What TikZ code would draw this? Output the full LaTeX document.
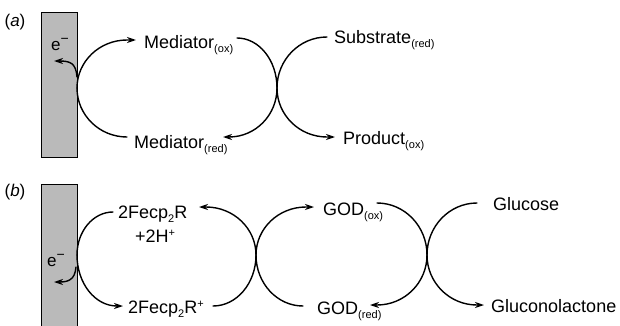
\documentclass[tikz,border=0pt]{standalone}
\usepackage{fontspec}
\setmainfont{Liberation Sans}
\usetikzlibrary{arrows.meta}
\newcommand\lowsub[1]{\raisebox{-4.5pt}{\fontsize{11}{12}\selectfont #1}}
\newcommand\highsup[1]{\raisebox{6pt}{\fontsize{11}{12}\selectfont #1}}
\newcommand\electron{e\raisebox{7pt}{\fontsize{14}{14}\selectfont −}}
\begin{document}
\begin{tikzpicture}[x=1pt,y=1pt,
  lbl/.style={font=\fontsize{18}{21}\selectfont, inner sep=0pt, anchor=base west},
  panel/.style={font=\fontsize{17}{20}\selectfont, inner sep=0pt},
  esym/.style={font=\fontsize{17}{20}\selectfont, inner sep=0pt},
  flow/.style={line width=1.4pt, line cap=round},
  tip/.style={-{Stealth[length=9pt,width=6pt]}},
  electrode/.style={draw, line width=1.3pt, fill=black!27, inner sep=0pt, anchor=south west}]
\useasboundingbox (0,0) rectangle (620,325);

% ---------- panel (a): mediator cycle ----------
\node[panel] (la) at (15,303) {(\textit{a})};
\node[electrode, minimum width=36pt, minimum height=145pt] (ea) at (41,167) {};
\node[esym] (ela) at (60,280) {\electron};

\node[lbl] (medox)  at (144,277) {Mediator\lowsub{(ox)}};
\node[lbl] (medred) at (134,177) {Mediator\lowsub{(red)}};
\node[lbl] (sub)    at (334,282) {Substrate\lowsub{(red)}};
\node[lbl] (prod)   at (343,181) {Product\lowsub{(ox)}};

\coordinate (ca0) at (77,237);   % contact with the electrode
\coordinate (ca1) at (277,237);  % crossing of the two cycles

\draw[flow,tip] (ca0) arc[start angle=180,end angle=90,x radius=50,y radius=48] -- ++(9,0);
\draw[flow] (ca0) arc[start angle=180,end angle=270,x radius=50,y radius=49];
\draw[flow] (ca1) arc[start angle=0,end angle=90,x radius=40,y radius=50];
\draw[flow,tip] (ca1) arc[start angle=0,end angle=-90,x radius=48,y radius=49] -- ++(-6,0);
\draw[flow] (ca1) arc[start angle=180,end angle=90,x radius=50,y radius=51];
\draw[flow,tip] (ca1) arc[start angle=180,end angle=270,x radius=50,y radius=49] -- ++(8,0);

\coordinate (ta0) at (77,248);
\coordinate (ta1) at (54,264);
\draw[flow,tip] (ta0) .. controls (76,262) and (70,264) .. (ta1);

% ---------- panel (b): ferrocene / glucose oxidase ----------
\node[panel] (lb) at (15,133) {(\textit{b})};
\node[electrode, minimum width=36pt, minimum height=150pt] (eb) at (41,-10) {};
\node[esym] (elb) at (56,64) {\electron};

\node[lbl] (fe1)    at (118,107) {2Fecp\lowsub{2}R};
\node[lbl] (fe2)    at (135,83)  {+2H\highsup{+}};
\node[lbl] (fer)    at (128,12)  {2Fecp\lowsub{2}R\highsup{+}};
\node[lbl] (godox)  at (323,110) {GOD\lowsub{(ox)}};
\node[lbl] (godred) at (317,11)  {GOD\lowsub{(red)}};
\node[lbl] (glu)    at (493,115) {Glucose};
\node[lbl] (gluc)   at (491,13)  {Gluconolactone};

\coordinate (cb0) at (77,70);
\coordinate (cb1) at (256,70);
\coordinate (cb2) at (427,70);

\draw[flow] (cb0) arc[start angle=180,end angle=90,x radius=36,y radius=43];
\draw[flow,tip] (cb0) arc[start angle=180,end angle=270,x radius=40,y radius=51] -- ++(6,0);
\draw[flow,tip] (cb1) arc[start angle=0,end angle=90,x radius=50,y radius=48] -- ++(-7,0);
\draw[flow] (cb1) arc[start angle=0,end angle=-90,x radius=43,y radius=51];
\draw[flow,tip] (cb1) arc[start angle=180,end angle=90,x radius=50,y radius=48] -- ++(8,0);
\draw[flow] (cb1) arc[start angle=180,end angle=270,x radius=47,y radius=51];
\draw[flow] (cb2) arc[start angle=0,end angle=90,x radius=50,y radius=52];
\draw[flow,tip] (cb2) arc[start angle=0,end angle=-90,x radius=50,y radius=50] -- ++(-7,0);
\draw[flow] (cb2) arc[start angle=180,end angle=90,x radius=50,y radius=52];
\draw[flow,tip] (cb2) arc[start angle=180,end angle=270,x radius=50,y radius=50] -- ++(7,0);

\coordinate (tb0) at (76,58);
\coordinate (tb1) at (54,43);
\draw[flow,tip] (tb0) .. controls (75,45) and (68,43) .. (tb1);
\end{tikzpicture}
\end{document}
